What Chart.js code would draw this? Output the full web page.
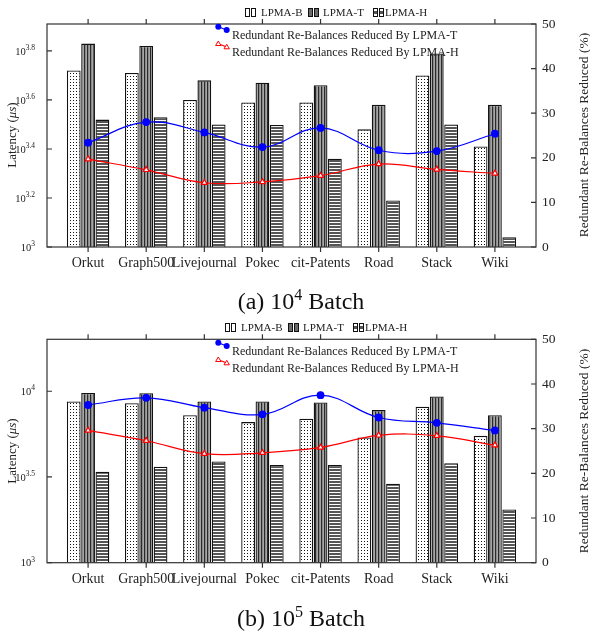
<!DOCTYPE html>
<html>
<head>
<meta charset="utf-8">
<title>LPMA batch latency</title>
<script src="https://cdn.jsdelivr.net/npm/chart.js@4.4.1/dist/chart.umd.min.js"></script>
<style>
  html, body { margin: 0; padding: 0; background: #fff; }
  #page { position: relative; width: 590px; height: 636px; overflow: hidden;
          font-family: 'Liberation Serif', 'Times New Roman', serif; color: #222; }
  .panel { position: absolute; left: 0; width: 590px; height: 318px; }
  .title { position: absolute; white-space: nowrap; transform: translate(-50%, -50%) rotate(-90deg); }
  .cap { position: absolute; left: 0; width: 590px; text-align: center; font-size: 24px; line-height: 24px; color: #111; }
  .cap sup { font-size: 16px; vertical-align: 9px; line-height: 0; }
  .leg { position: absolute; white-space: nowrap; font-size: 11px; line-height: 11px; }
  .legl { position: absolute; white-space: nowrap; font-size: 12px; line-height: 12px; }
  .ico { position: absolute; width: 3px; height: 7px; border: 1px solid #111; box-sizing: content-box; }
</style>
</head>
<body>
<div id="page">
  <div class="panel" style="top:0"><canvas id="batch4"></canvas></div>
  <div class="panel" style="top:318px"><canvas id="batch5"></canvas></div>
</div>
<script>
// categories (datasets) on the x axis
const categories = ['Orkut', 'Graph500', 'Livejournal', 'Pokec', 'cit-Patents', 'Road', 'Stack', 'Wiki'];

// (a) 10^4 batch - latency in microseconds (log axis)
const batch4B = [5248, 5129, 3981, 3890, 3890, 3020, 5012, 2570];
const batch4T = [6761, 6607, 4786, 4677, 4571, 3802, 6166, 3802];
const batch4H = [3311, 3388, 3162, 3148, 2291, 1549, 3162, 1096];
// redundant re-balances reduced (%) - right axis
const batch4RedT = [23.4, 28.0, 25.7, 22.4, 26.7, 21.7, 21.5, 25.4];
const batch4RedH = [19.7, 17.3, 14.4, 14.6, 16.0, 18.6, 17.4, 16.5];

// (b) 10^5 batch
const batch5B = [8710, 8511, 7244, 6607, 6918, 5370, 8128, 5495];
const batch5T = [9772, 9727, 8710, 8710, 8610, 7762, 9333, 7244];
const batch5H = [3388, 3631, 3890, 3715, 3715, 2884, 3802, 2042];
const batch5RedT = [35.3, 36.9, 34.7, 33.2, 37.5, 32.5, 31.3, 29.6];
const batch5RedH = [29.6, 27.3, 24.4, 24.6, 25.8, 28.5, 28.4, 26.3];

// tick labels (exponents of 10 on the left, percent on the right)
const logTicks4 = [3, 3.2, 3.4, 3.6, 3.8];
const logTicks5 = [3, 3.5, 4];
const pctTicks = [0, 10, 20, 30, 40, 50];

const serif = "'Liberation Serif', 'Times New Roman', serif";

// small repeating fills for the bars
function tile(w, h, draw) {
  const c = document.createElement('canvas');
  c.width = w; c.height = h;
  const g = c.getContext('2d');
  draw(g);
  return g.createPattern(c, 'repeat');
}
const dots = tile(3, 3, g => { g.fillStyle = '#fff'; g.fillRect(0, 0, 3, 3); g.fillStyle = '#111'; g.fillRect(1, 1, 1, 1); });
const vstripes = tile(3, 1, g => { g.fillStyle = '#8a8a8a'; g.fillRect(0, 0, 3, 1); g.fillStyle = '#2a2a2a'; g.fillRect(0, 0, 1, 1); g.fillStyle = '#a6a6a6'; g.fillRect(2, 0, 1, 1); });
const hstripes = tile(1, 3, g => { g.fillStyle = '#fff'; g.fillRect(0, 0, 1, 3); g.fillStyle = '#555'; g.fillRect(0, 1, 1, 2); });

// frame, inward/outward tick marks and 10^x labels
const frame = {
  id: 'frame',
  afterDraw(chart, args, o) {
    const { ctx, chartArea: a } = chart;
    const x = chart.scales.x, y = chart.scales.y, y2 = chart.scales.y2;
    ctx.save();
    ctx.strokeStyle = '#333'; ctx.lineWidth = 1.2;
    ctx.strokeRect(a.left, a.top, a.width, a.height);
    ctx.beginPath();
    categories.forEach((c, i) => {
      const px = x.getPixelForValue(i);
      ctx.moveTo(px, a.top - 5); ctx.lineTo(px, a.top);
      ctx.moveTo(px, a.bottom); ctx.lineTo(px, a.bottom + 5);
    });
    o.logTicks.forEach(e => {
      const py = y.getPixelForValue(Math.pow(10, e));
      ctx.moveTo(a.left, py); ctx.lineTo(a.left + 5, py);
    });
    pctTicks.forEach(v => {
      const py = y2.getPixelForValue(v);
      ctx.moveTo(a.right - 5, py); ctx.lineTo(a.right, py);
    });
    ctx.stroke();
    ctx.fillStyle = '#222'; ctx.textBaseline = 'middle';
    o.logTicks.forEach(e => {
      const py = y.getPixelForValue(Math.pow(10, e));
      const ex = String(e);
      ctx.font = '7.5px ' + serif;
      const ew = ctx.measureText(ex).width;
      ctx.textAlign = 'right'; ctx.font = '10.5px ' + serif;
      ctx.fillText('10', 35 - ew, py + 1);
      ctx.textAlign = 'left'; ctx.font = '7.5px ' + serif;
      ctx.fillText(ex, 35 - ew, py - 3);
    });
    ctx.restore();
  }
};

function buildChart(id, cfg) {
  const pts = vals => vals.map((v, i) => ({ x: i, y: v }));
  const bar = (label, vals, fill) => ({
    type: 'bar', label, data: pts(vals), backgroundColor: fill, borderColor: '#111', borderWidth: 1.3,
    categoryPercentage: 0.74, barPercentage: 0.96, yAxisID: 'y', order: 2
  });
  const line = (label, vals, color, style, inner) => ({
    type: 'line', label, data: pts(vals), borderColor: color, borderWidth: 1.2, pointStyle: style,
    pointRadius: 3.3, pointBackgroundColor: inner, pointBorderColor: color, pointBorderWidth: 1.2,
    tension: 0.4, yAxisID: 'y2', order: 1
  });
  return new Chart(document.getElementById(id), {
    type: 'bar',
    data: {
      datasets: [
        bar('LPMA-B', cfg.b, dots),
        bar('LPMA-T', cfg.t, vstripes),
        bar('LPMA-H', cfg.h, hstripes),
        line('Redundant Re-Balances Reduced By LPMA-T', cfg.redT, '#0000ff', 'circle', '#0000ff'),
        line('Redundant Re-Balances Reduced By LPMA-H', cfg.redH, '#ff0000', 'triangle', '#fff')
      ]
    },
    options: {
      responsive: true,
      maintainAspectRatio: false,
      animation: false,
      layout: { padding: { top: cfg.padTop, left: 0, right: 0, bottom: 0 } },
      plugins: { legend: { display: false }, tooltip: { enabled: false }, frame: { logTicks: cfg.logTicks } },
      scales: {
        x: {
          type: 'linear', min: -0.707, max: 7.707, offset: false,
          grid: { display: false, drawTicks: false, offset: false }, border: { display: false },
          afterBuildTicks: s => { s.ticks = categories.map((c, i) => ({ value: i })); },
          afterFit: s => { s.height = cfg.xHeight; },
          ticks: { autoSkip: false, maxRotation: 0, minRotation: 0, padding: 8, color: '#222',
                   font: { family: serif, size: 14 }, callback: v => categories[v] ?? '' }
        },
        y: {
          type: 'logarithmic', position: 'left', min: 1000, max: cfg.yMax,
          grid: { display: false, drawTicks: false }, border: { display: false },
          afterBuildTicks: s => { s.ticks = cfg.logTicks.map(e => ({ value: Math.pow(10, e) })); },
          afterFit: s => { s.width = 47; },
          ticks: { display: false }
        },
        y2: {
          type: 'linear', position: 'right', min: 0, max: 50,
          grid: { display: false, drawTicks: false }, border: { display: false },
          afterBuildTicks: s => { s.ticks = pctTicks.map(v => ({ value: v })); },
          afterFit: s => { s.width = 54; },
          ticks: { padding: 6, color: '#222', font: { family: serif, size: 13.5 } }
        }
      }
    },
    plugins: [frame]
  });
}

buildChart('batch4', { b: batch4B, t: batch4T, h: batch4H, redT: batch4RedT, redH: batch4RedH,
  logTicks: logTicks4, yMax: Math.pow(10, 3.91), padTop: 24, xHeight: 71 });
buildChart('batch5', { b: batch5B, t: batch5T, h: batch5H, redT: batch5RedT, redH: batch5RedH,
  logTicks: logTicks5, yMax: Math.pow(10, 4.303), padTop: 21.3, xHeight: 73.3 });

// HTML overlays: legends, axis titles, captions
const page = document.getElementById('page');
function add(cls, left, top, html, style) {
  const d = document.createElement('div');
  d.className = cls;
  d.style.left = left + 'px'; d.style.top = top + 'px';
  if (style) Object.assign(d.style, style);
  d.innerHTML = html;
  page.appendChild(d);
  return d;
}
const icoFill = {
  B: { background: '#fff' },
  T: { background: '#6a6a6a' },
  H: { background: 'linear-gradient(#fff 0 35%, #555 35% 70%, #fff 70%)' }
};
function legends(dx, dy) {
  [['B', 245, 261], ['T', 308, 323], ['H', 372.5, 385]].forEach(([k, ix, tx]) => {
    add('ico', ix + dx, 8 + dy, '', icoFill[k]);
    add('ico', ix + 6 + dx, 8 + dy, '', icoFill[k]);
    add('leg', tx + dx, 6.5 + dy, 'LPMA-' + k);
  });
  const ldy = Math.round(dy * 1.003);
  add('legl', 214, 23 + ldy,
    '<svg width="17" height="11"><polyline points="4.3,3.7 12.7,7" stroke="#0000ff" stroke-width="1.2" fill="none"/>' +
    '<circle cx="4.3" cy="3.7" r="3" fill="#0000ff"/><circle cx="12.7" cy="7" r="3" fill="#0000ff"/></svg>');
  add('legl', 232, 28.5 + ldy, 'Redundant Re-Balances Reduced By LPMA-T');
  add('legl', 214, 39.5 + ldy,
    '<svg width="17" height="11"><polyline points="4.3,3.7 12.7,7" stroke="#ff0000" stroke-width="1.2" fill="none"/>' +
    '<polygon points="4.3,1 7,5.5 1.6,5.5" fill="#fff" stroke="#ff0000" stroke-width="1"/>' +
    '<polygon points="12.7,4.3 15.4,8.8 10,8.8" fill="#fff" stroke="#ff0000" stroke-width="1"/></svg>');
  add('legl', 232, 46 + ldy, 'Redundant Re-Balances Reduced By LPMA-H');
}
legends(0, 0);
legends(-20, 315);

add('title', 12, 135, 'Latency (<i>&mu;s</i>)', { fontSize: '13px' });
add('title', 12, 451, 'Latency (<i>&mu;s</i>)', { fontSize: '13px' });
add('title', 584, 135, 'Redundant Re-Balances Reduced (%)', { fontSize: '13.5px' });
add('title', 584, 451, 'Redundant Re-Balances Reduced (%)', { fontSize: '13.5px' });

const c1 = add('cap', 0, 289, '(a) 10<sup>4</sup> Batch');
const c2 = add('cap', 0, 606, '(b) 10<sup>5</sup> Batch');
c1.style.left = '6px'; c2.style.left = '6px';
</script>
</body>
</html>
